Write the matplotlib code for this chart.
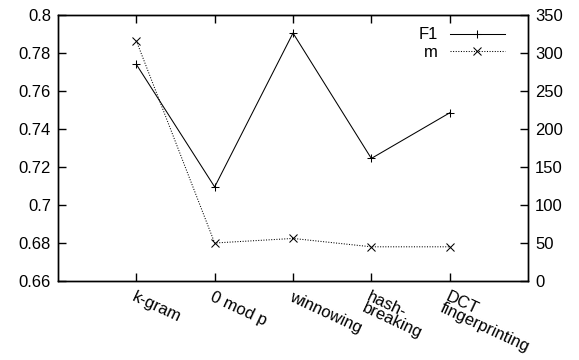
import matplotlib
matplotlib.use("Agg")
import matplotlib.pyplot as plt
import numpy as np

plt.rcParams['font.family'] = ['Liberation Sans', 'DejaVu Sans']

methods = ["k-gram", "0 mod p", "winnowing", "hash-\nbreaking", "DCT\nfingerprinting"]
f1 = [0.774, 0.7095, 0.7905, 0.7245, 0.7485]
m = [316, 50, 56, 45, 45]

x = np.arange(len(methods))
fs = 12

fig = plt.figure(figsize=(5.79, 3.6), dpi=100)
ax = fig.add_axes([58 / 579, 1 - 281 / 360, 470 / 579, 266 / 360])
ax2 = ax.twinx()

l1, = ax.plot(x, f1, color='black', lw=0.75, marker='+', ms=6, mew=0.75, label='F1')
l2, = ax2.plot(x, m, color='black', lw=0.75, ls=(0, (1, 1.5)), marker='x', ms=5.5, mew=0.75, label='m')

ax.set_xlim(-1, 5)
ax.set_ylim(0.66, 0.8)
ax.set_yticks(np.arange(0.66, 0.801, 0.02))
ax.set_yticklabels(['0.66', '0.68', '0.7', '0.72', '0.74', '0.76', '0.78', '0.8'])
ax2.set_ylim(0, 350)
ax2.set_yticks(np.arange(0, 351, 50))

ax.set_xticks(x)
ax.set_xticklabels(methods, rotation=-25, ha='left', va='top', rotation_mode='anchor',
                   linespacing=0.8)
ax.tick_params(axis='x', direction='in', top=True, length=6, width=1, pad=6, labelsize=fs)
ax.tick_params(axis='y', direction='in', length=6, width=1, labelsize=fs, pad=5)
ax2.tick_params(axis='y', direction='in', length=6, width=1, labelsize=fs, pad=5)
for a in (ax, ax2):
    for s in a.spines.values():
        s.set_linewidth(1)

ax.legend(handles=[l1, l2], loc='upper right', bbox_to_anchor=(1 - 11 / 470, 1.0),
          frameon=False, markerfirst=False,
          fontsize=fs, handlelength=3.3, borderaxespad=0.35, labelspacing=0.15,
          handletextpad=0.7)

fig.savefig('out.png', dpi=100)
